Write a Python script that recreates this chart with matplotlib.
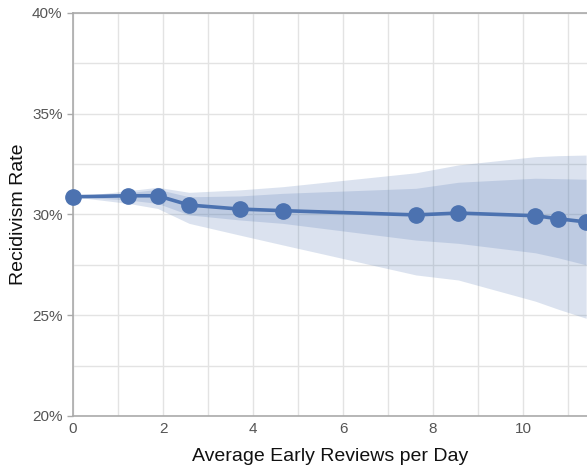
import matplotlib
matplotlib.use("Agg")
import matplotlib.pyplot as plt
from matplotlib.ticker import FuncFormatter, MultipleLocator

# Average early reviews per day vs. recidivism rate (%)
reviews = [0.0, 1.23, 1.88, 2.58, 3.70, 4.66, 7.62, 8.56, 10.27, 10.78, 11.40]
rate = [30.88, 30.93, 30.93, 30.47, 30.27, 30.19, 29.98, 30.07, 29.94, 29.79, 29.63]

# Outer (wide) and inner (narrow) uncertainty bands
outer_lo = [30.88, 30.55, 30.30, 29.56, 28.98, 28.49, 27.00, 26.75, 25.70, 25.30, 24.85]
outer_hi = [30.88, 31.18, 31.35, 31.10, 31.22, 31.38, 32.07, 32.46, 32.87, 32.92, 32.95]
inner_lo = [30.88, 30.72, 30.55, 29.98, 29.73, 29.56, 28.73, 28.57, 28.10, 27.85, 27.50]
inner_hi = [30.88, 31.08, 31.25, 30.88, 30.92, 31.05, 31.30, 31.60, 31.80, 31.78, 31.75]

BLUE = "#4c72b0"
GRID = "#e3e3e3"
SPINE = "#aaaaaa"

plt.rcParams["font.family"] = ["Liberation Sans", "DejaVu Sans"]

fig = plt.figure(figsize=(5.87, 4.70), dpi=100)
ax = fig.add_axes([73 / 587, 1 - 416 / 470, 1 - 73 / 587, (416 - 13) / 470])

ax.fill_between(reviews, outer_lo, outer_hi, color=BLUE, alpha=0.2, linewidth=0, zorder=2)
ax.fill_between(reviews, inner_lo, inner_hi, color=BLUE, alpha=0.2, linewidth=0, zorder=2)
ax.plot(reviews, rate, color=BLUE, linewidth=2.6, marker="o", markersize=11,
        zorder=3, clip_on=False)

ax.set_xlim(0, 11.42)
ax.set_ylim(20, 40)
ax.xaxis.set_major_locator(MultipleLocator(2))
ax.xaxis.set_minor_locator(MultipleLocator(1))
ax.yaxis.set_major_locator(MultipleLocator(5))
ax.yaxis.set_minor_locator(MultipleLocator(2.5))
ax.yaxis.set_major_formatter(FuncFormatter(lambda v, _: f"{v:.0f}%"))

ax.grid(True, which="both", color=GRID, linewidth=1.0, zorder=0)
ax.set_axisbelow(True)

for side in ("left", "bottom", "top"):
    ax.spines[side].set_color(SPINE)
    ax.spines[side].set_linewidth(1.2)
ax.spines["right"].set_visible(False)

ax.tick_params(axis="both", which="major", labelsize=11, labelcolor="#555555",
               color=SPINE, length=4, width=1)
ax.tick_params(axis="x", which="major", length=0, pad=4)
ax.tick_params(axis="both", which="minor", length=0)

ax.set_xlabel("Average Early Reviews per Day", fontsize=14, labelpad=9, color="#111111")
ax.set_ylabel("Recidivism Rate", fontsize=14, labelpad=4, color="#111111")

fig.savefig("out.png", dpi=100)
